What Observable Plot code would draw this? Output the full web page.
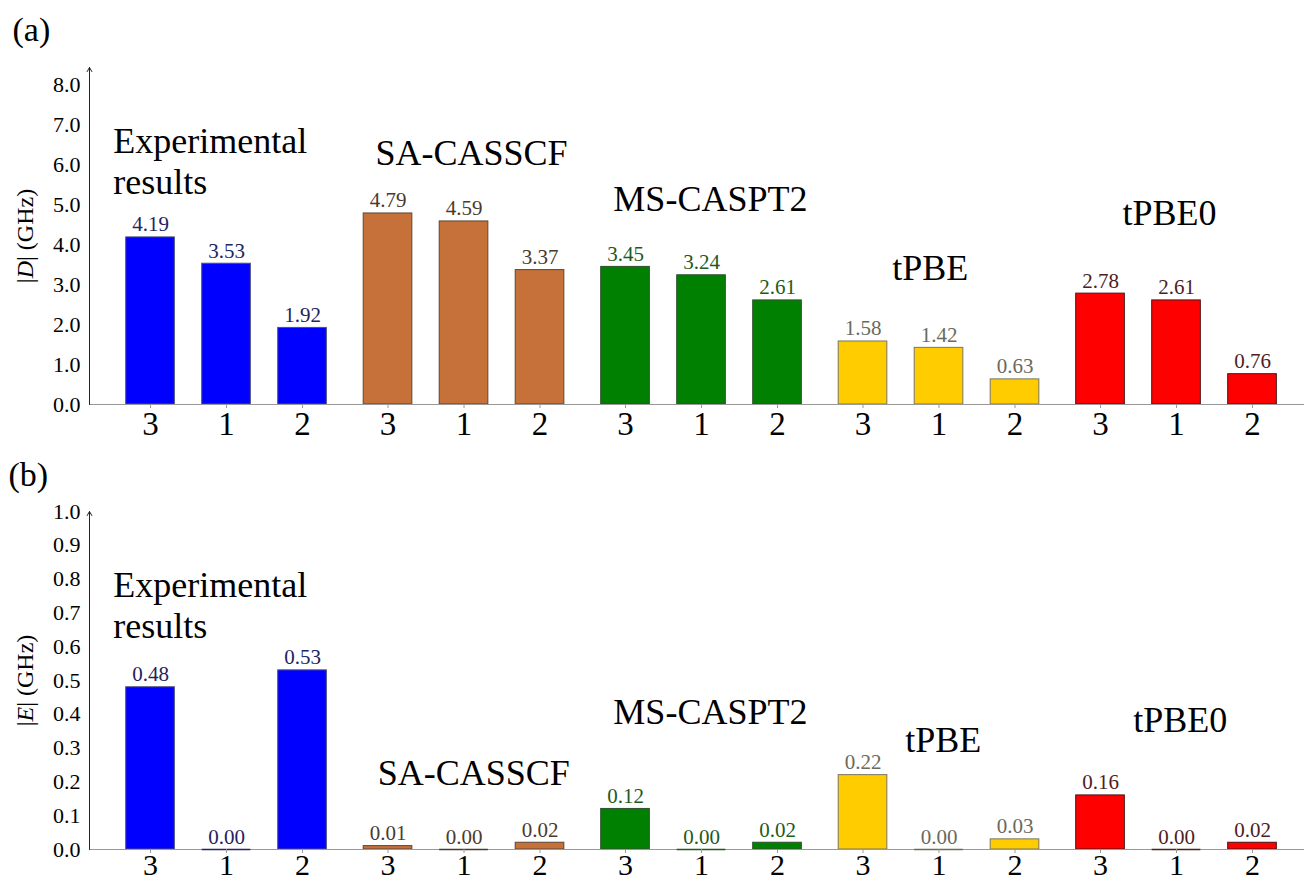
<!DOCTYPE html>
<html><head><meta charset="utf-8">
<script src="https://cdn.jsdelivr.net/npm/d3@7"></script>
<script src="https://cdn.jsdelivr.net/npm/@observablehq/plot@0.6"></script>
<style>
body{margin:0;background:#fff;width:1304px;height:882px;overflow:hidden}
#chart svg{display:block;overflow:visible}
</style></head><body><div id="chart"></div>
<script>
const methods = ["Experimental results", "SA-CASSCF", "MS-CASPT2", "tPBE", "tPBE0"];
const states = ["3", "1", "2"];
const dValues = [[4.19, 3.53, 1.92], [4.79, 4.59, 3.37], [3.45, 3.24, 2.61], [1.58, 1.42, 0.63], [2.78, 2.61, 0.76]];
const eValues = [[0.48, 0.00, 0.53], [0.01, 0.00, 0.02], [0.12, 0.00, 0.02], [0.22, 0.00, 0.03], [0.16, 0.00, 0.02]];
const dTicks = [0, 1, 2, 3, 4, 5, 6, 7, 8];
const eTicks = [0, 0.1, 0.2, 0.3, 0.4, 0.5, 0.6, 0.7, 0.8, 0.9, 1.0];
const barColors = ["#0000ff", "#c6713a", "#008000", "#ffcc00", "#ff0000"];
const edgeColors = ["#505078", "#5a4535", "#2f4f2f", "#7a7460", "#4a1414"];
const valueColors = ["#24245e", "#4a3b2e", "#1e5a1e", "#6a6a5e", "#4e1e1e"];
// group label anchor positions (bar units, data units)
const dLabelX = [-0.49, 2.96, 6.09, 9.76, 12.79];
const dLabelY = [5.27, 6.00, 4.85, 3.12, 4.49];
const eLabelX = [-0.49, 2.99, 6.09, 9.93, 12.93];
const eLabelY = [0.626, 0.19, 0.371, 0.288, 0.347];

const FONT = "Liberation Serif";
const groupStep = 3.125, halfW = 0.32;
const xDomain = [-0.803, 15.184];

function makePanel({values, yMax, yTicks, labelX, labelY, yLabel, tag, marginTop, marginBottom, tagDx, tagDy, labDy, stateSize, stateDy}) {
  const rows = [];
  values.forEach((vals, g) => vals.forEach((v, i) => rows.push({g, i, x: g * groupStep + i, state: states[i], value: v, method: methods[g]})));
  const plot = Plot.plot({
    width: 1304, height: 441,
    marginLeft: 89, marginRight: 0, marginTop, marginBottom,
    style: {fontFamily: FONT, color: "#000", background: "#fff", overflow: "visible"},
    x: {domain: xDomain, axis: null},
    y: {domain: [0, yMax], axis: null},
    color: {type: "identity"},
    marks: [
      Plot.rectY(rows.filter(d => d.value > 0), {x1: d => d.x - halfW, x2: d => d.x + halfW, y1: 0, y2: "value",
        fill: d => barColors[d.g], stroke: d => edgeColors[d.g], strokeWidth: 1}),
      Plot.ruleY([0], {stroke: "#999", strokeWidth: 1.2}),
      Plot.ruleY(rows.filter(d => d.value === 0), {y: 0, x1: d => d.x - halfW, x2: d => d.x + halfW, stroke: d => valueColors[d.g], strokeWidth: 1.6}),
      Plot.axisX({ticks: rows.map(d => d.x), tickFormat: () => "", tickSize: 4, stroke: "#999", label: null}),
      Plot.text(rows, {x: "x", y: 0, text: "state", lineAnchor: "top", dy: stateDy, fontSize: stateSize, fontFamily: FONT, fill: "#000"}),
      Plot.text(rows, {x: "x", y: "value", text: d => d.value.toFixed(2), lineAnchor: "bottom", dy: -6, fontSize: 21, fontFamily: FONT, fill: d => valueColors[d.g]}),
      Plot.axisY({ticks: yTicks, tickFormat: d3.format(".1f"), tickSize: 0, tickPadding: 9, fontSize: 22, fontFamily: FONT, label: null}),
      Plot.arrow([0], {x1: xDomain[0], x2: xDomain[0], y1: 0, y2: yMax, headLength: 7, stroke: "#222", strokeWidth: 1}),
      Plot.text(methods, {x: (d, i) => labelX[i], y: (d, i) => labelY[i], text: d => d.replace("Experimental ", "Experimental\n"),
        textAnchor: "start", lineAnchor: "bottom", lineHeight: 1.15, fontSize: 36, fontFamily: FONT, fill: "#000"}),
      Plot.text([yLabel], {frameAnchor: "left", textAnchor: "middle", dx: -64, dy: labDy, rotate: -90, fontSize: 24, fontFamily: FONT, fill: "#000"}),
      Plot.text([tag], {frameAnchor: "top-left", dx: tagDx, dy: tagDy, textAnchor: "start", lineAnchor: "middle", fontSize: 34, fontFamily: FONT, fill: "#000"})
    ]
  });
  d3.select(plot).selectAll("text").each(function() {
    const t = this.textContent;
    if (t === "|D| (GHz)") this.innerHTML = '|<tspan font-style="italic">D</tspan>| (GHz)';
    if (t === "|E| (GHz)") this.innerHTML = '|<tspan font-style="italic">E</tspan>| (GHz)';
  });
  return plot;
}

const chart = document.getElementById("chart");
chart.appendChild(makePanel({values: dValues, yMax: 8.45, yTicks: dTicks, labelX: dLabelX, labelY: dLabelY,
  yLabel: "|D| (GHz)", tag: "(a)", marginTop: 67, marginBottom: 37, tagDx: -77, tagDy: -37, labDy: 0, stateSize: 33, stateDy: 7}));
chart.appendChild(makePanel({values: eValues, yMax: 1.0, yTicks: eTicks, labelX: eLabelX, labelY: eLabelY,
  yLabel: "|E| (GHz)", tag: "(b)", marginTop: 70, marginBottom: 33, tagDx: -81, tagDy: -36, labDy: 0, stateSize: 30, stateDy: 4}));
</script></body></html>
